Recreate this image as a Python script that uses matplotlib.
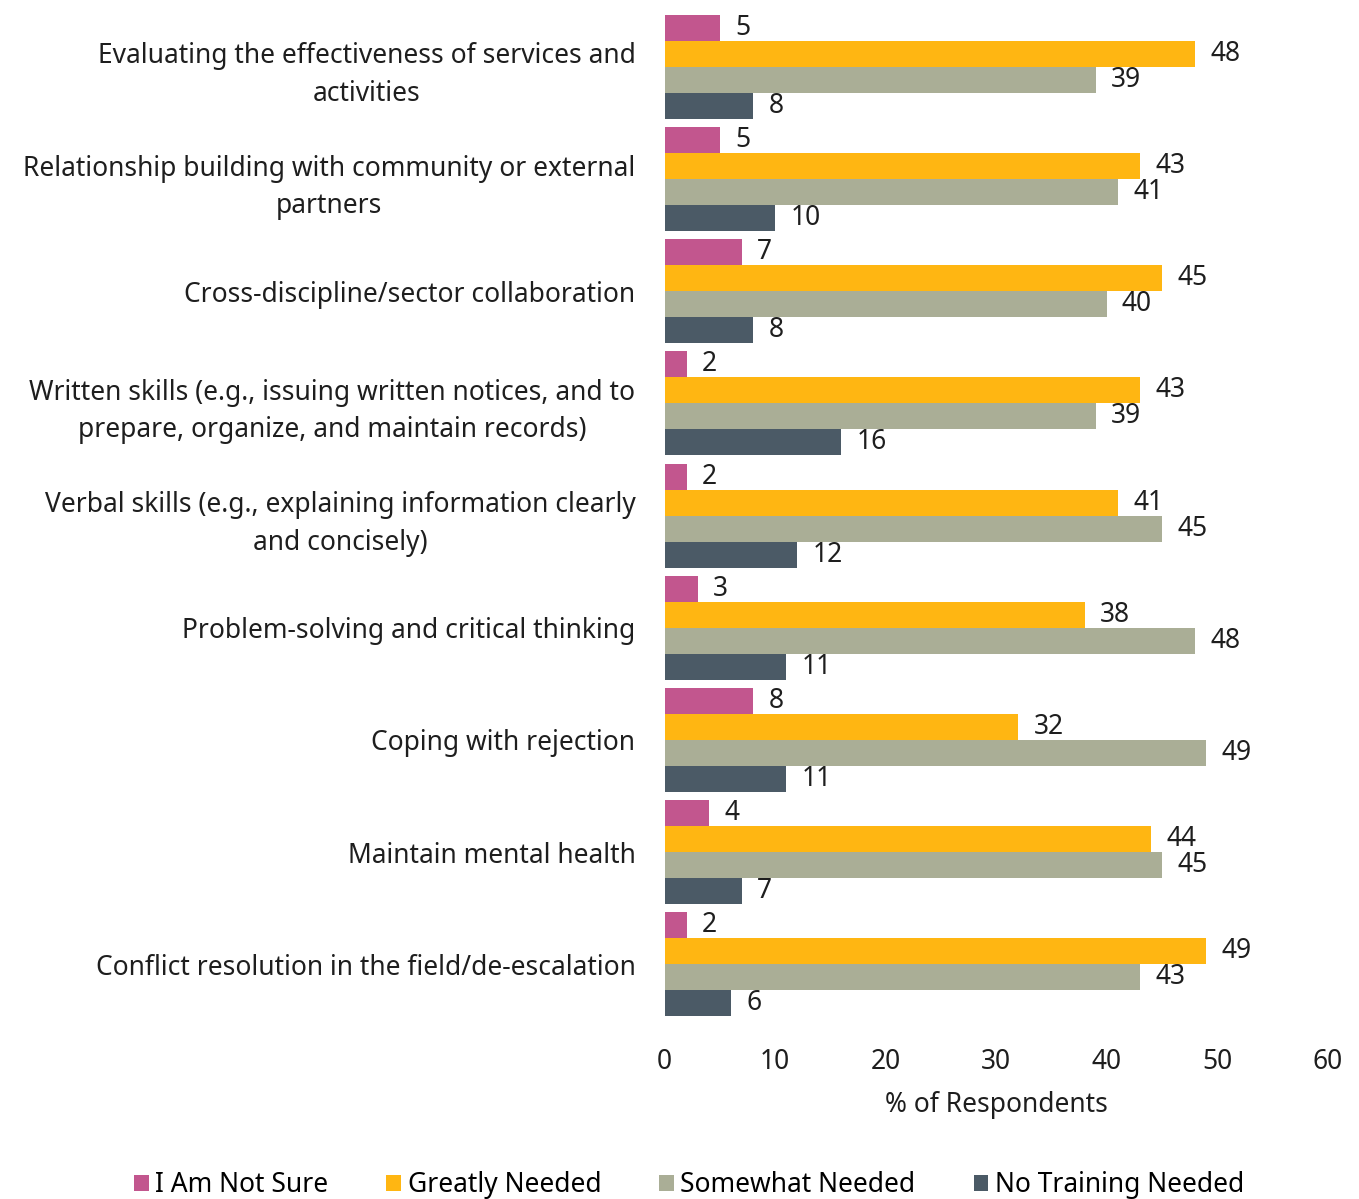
import matplotlib
matplotlib.use("Agg")
import matplotlib.pyplot as plt
import numpy as np

categories = [
    "Evaluating the effectiveness of services and\nactivities",
    "Relationship building with community or external\npartners",
    "Cross-discipline/sector collaboration",
    "Written skills (e.g., issuing written notices, and to\nprepare, organize, and maintain records)",
    "Verbal skills (e.g., explaining information clearly\nand concisely)",
    "Problem-solving and critical thinking",
    "Coping with rejection",
    "Maintain mental health",
    "Conflict resolution in the field/de-escalation",
]
series_names = ["I Am Not Sure", "Greatly Needed", "Somewhat Needed", "No Training Needed"]
not_sure = [5, 5, 7, 2, 2, 3, 8, 4, 2]
greatly = [48, 43, 45, 43, 41, 38, 32, 44, 49]
somewhat = [39, 41, 40, 39, 45, 48, 49, 45, 43]
no_training = [8, 10, 8, 16, 12, 11, 11, 7, 6]
x_ticks = [0, 10, 20, 30, 40, 50, 60]

colors = ["#C2568E", "#FFB612", "#AAAE96", "#4B5A66"]

plt.rcParams['font.family'] = ['Noto Sans', 'DejaVu Sans']
FS = 19
TC = "#1e1e1e"

fig = plt.figure(figsize=(13.59, 11.99), dpi=100)
ax = fig.add_axes([0.489, 0.149, 0.977 - 0.489, 0.991 - 0.149])

series = [not_sure, greatly, somewhat, no_training]
n = len(categories)
ypos = np.arange(n)
h = 0.232
for k, (vals, name, c) in enumerate(zip(series, series_names, colors)):
    yy = ypos + (k - 1.5) * h
    bars = ax.barh(yy, vals, height=h, color=c, label=name)
    for b, v in zip(bars, vals):
        ax.annotate(str(v), (b.get_width(), b.get_y() + b.get_height() / 2),
                    xytext=(11, 0), textcoords="offset points",
                    va="center", ha="left", fontsize=FS, color=TC)

ax.set_ylim(n - 0.5, -0.5)
ax.set_xlim(0, 60)
ax.set_xticks(x_ticks)
ax.set_xticklabels([str(t) for t in x_ticks], fontsize=FS, color=TC)
ax.set_yticks(ypos)
ax.set_yticklabels(categories, fontsize=FS, color=TC, multialignment="center",
                   linespacing=1.45)
ax.tick_params(axis="both", length=0)
ax.tick_params(axis="x", pad=20)
ax.tick_params(axis="y", pad=21)
for s in ax.spines.values():
    s.set_visible(False)
ax.set_xlabel("% of Respondents", fontsize=FS, color=TC, labelpad=11)

handles, labels = ax.get_legend_handles_labels()
fig.legend(handles, labels, loc="lower center", bbox_to_anchor=(0.507, -0.020), ncol=4,
           frameon=False, fontsize=FS, handlelength=0.55, handleheight=0.55,
           handletextpad=0.25, columnspacing=2.2)

fig.savefig("out.png", dpi=100)
